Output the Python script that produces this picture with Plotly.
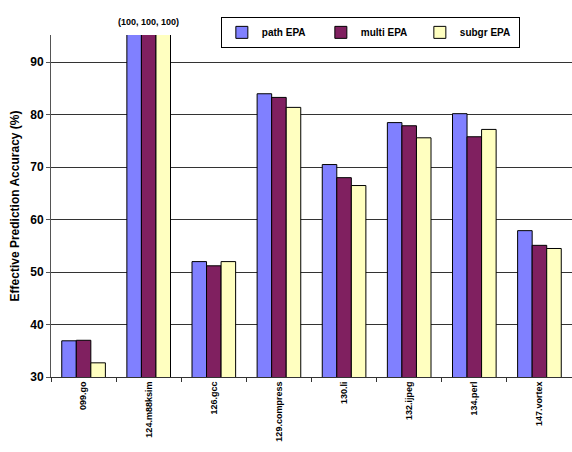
import plotly.graph_objects as go

categories = ["099.go", "124.m88ksim", "126.gcc", "129.compress", "130.li",
              "132.ijpeg", "134.perl", "147.vortex"]
path_epa = [36.9, 100, 52.0, 84.0, 70.5, 78.5, 80.2, 57.9]
multi_epa = [37.0, 100, 51.2, 83.3, 68.0, 77.9, 75.8, 55.1]
subgr_epa = [32.7, 100, 52.0, 81.4, 66.5, 75.6, 77.2, 54.5]
y_ticks = [30, 40, 50, 60, 70, 80, 90]

FONT = "Arial, Liberation Sans, sans-serif"

fig = go.Figure()
for name, vals, col in [("path EPA", path_epa, "#8080FF"),
                        ("multi EPA", multi_epa, "#802060"),
                        ("subgr EPA", subgr_epa, "#FFFFC0")]:
    fig.add_trace(go.Bar(x=categories, y=vals, name=name,
                         marker=dict(color=col, line=dict(color="black", width=1))))

fig.update_layout(
    width=572, height=452,
    margin=dict(l=51, r=0, t=35, b=75),
    paper_bgcolor="white", plot_bgcolor="white",
    barmode="group", bargap=0.33, bargroupgap=0,
    font=dict(family=FONT, color="black"),
    showlegend=True,
    legend=dict(orientation="h", x=0.326, y=1.053, xanchor="left", yanchor="top",
                bordercolor="black", borderwidth=1, bgcolor="white",
                font=dict(size=10, family=FONT, weight="bold"),
                entrywidth=54, entrywidthmode="pixels",
                itemwidth=30, tracegroupgap=0),
    annotations=[dict(text="<b>(100, 100, 100)</b>", x="124.m88ksim", y=1.0,
                      xref="x", yref="paper", yanchor="bottom", yshift=6,
                      showarrow=False, font=dict(size=9, family=FONT))],
)
fig.update_yaxes(range=[30, 95.2], tickvals=y_ticks, showgrid=True,
                 gridcolor="#333333", gridwidth=1, showline=True, linecolor="#555555",
                 ticks="outside", ticklen=4, tickcolor="#555555",
                 tickfont=dict(size=12, family=FONT, weight="bold"),
                 title=dict(text="Effective Prediction Accuracy (%)", standoff=8,
                            font=dict(size=12, family=FONT, weight="bold")))
fig.update_xaxes(showline=True, linecolor="#333333", tickangle=-90,
                 tickson="boundaries", ticks="outside", ticklen=4, tickcolor="#333333",
                 tickfont=dict(size=9, family=FONT, weight="bold"))

fig.write_html("out.html")
